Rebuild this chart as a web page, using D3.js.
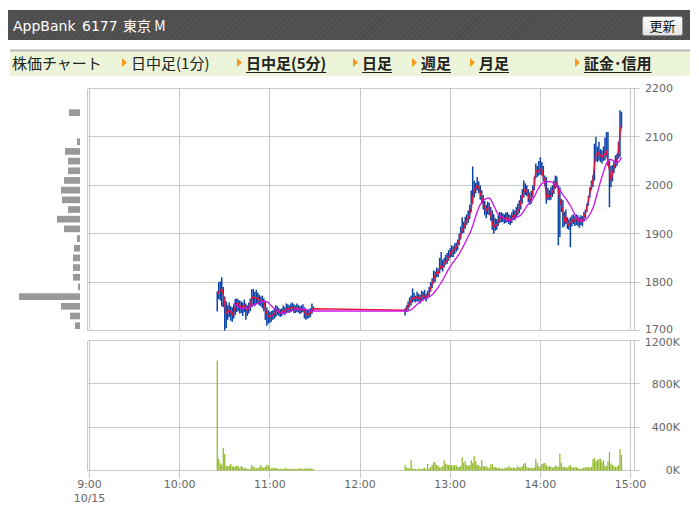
<!DOCTYPE html>
<html>
<head>
<meta charset="utf-8">
<script src="https://cdn.jsdelivr.net/npm/d3@7"></script>
<style>
  body { margin: 0; background: #fff; }
  svg text { font-family: "DejaVu Sans", "Noto Sans CJK JP", sans-serif; }
  .cjk { font-family: "Noto Sans CJK JP", "DejaVu Sans", sans-serif; }
</style>
</head>
<body>
<div id="chart"></div>
<script>
// ---- data ----
const tickLabels = ["9:00", "10:00", "11:00", "12:00", "13:00", "14:00", "15:00"];
const dateLabel = "10/15";
const priceTicks = [1700, 1800, 1900, 2000, 2100, 2200];
const volumeTicks = [0, 400, 800, 1200]; // thousands of shares

const navLabels = ["株価チャート", "日中足(1分)", "日中足(5分)", "日足", "週足", "月足", "証金･信用"];

// morning session, 1-minute bars from 10:25
const morningStart = "10:25";
const morningHigh = [
  1781,1800,1801,1810,1790,1770,1760,1752,1758,1750,
  1748,1754,1765,1766,1764,1762,1760,1758,1764,1756,
  1752,1758,1766,1785,1786,1780,1784,1778,1774,1770,
  1772,1766,1760,1748,1742,1738,1740,1742,1745,1752,
  1750,1746,1744,1746,1752,1748,1756,1754,1752,1756,
  1758,1754,1752,1756,1753,1750,1752,1754,1748,1744,
  1742,1744,1746,1756,1750];
const morningLow = [
  1739,1765,1762,1750,1748,1700,1705,1722,1728,1720,
  1718,1725,1732,1738,1740,1735,1736,1730,1738,1722,
  1730,1735,1740,1748,1752,1750,1755,1756,1752,1750,
  1746,1740,1722,1710,1714,1716,1718,1722,1724,1728,
  1732,1730,1728,1730,1734,1732,1736,1738,1736,1738,
  1740,1736,1736,1738,1737,1734,1736,1738,1725,1722,
  1724,1726,1728,1734,1740];
const morningClose = [
  1775,1780,1783,1785,1775,1755,1735,1738,1742,1738,
  1733,1740,1748,1755,1756,1752,1750,1748,1752,1745,
  1742,1748,1752,1765,1770,1768,1766,1768,1764,1762,
  1760,1758,1745,1735,1730,1728,1730,1732,1735,1740,
  1742,1738,1736,1738,1742,1740,1744,1746,1744,1746,
  1748,1745,1744,1746,1745,1742,1744,1745,1738,1735,
  1732,1734,1736,1742,1745];
const morningVolume = [
  1015,108,68,52,210,154,43,40,43,62,
  38,35,37,45,40,22,43,30,20,25,
  14,12,18,52,35,28,22,20,30,52,
  30,25,35,52,48,22,20,25,24,22,
  20,15,15,16,14,22,18,15,15,14,
  15,16,14,15,18,22,15,16,14,22,
  18,16,20,18,12];

// afternoon session, 1-minute bars from 12:30
const afternoonStart = "12:30";
const afternoonHigh = [
  1746,1752,1760,1768,1772,1787,1778,1772,1780,1776,
  1774,1782,1780,1784,1776,1782,1790,1800,1808,1824,
  1822,1830,1828,1850,1862,1846,1850,1856,1860,1866,
  1870,1876,1874,1880,1882,1888,1900,1915,1934,1925,
  1935,1940,1948,1960,1989,2039,2010,2005,2017,2008,
  2000,1990,1980,1968,1960,1966,1964,1955,1948,1940,
  1932,1930,1938,1945,1944,1942,1940,1944,1945,1940,
  1938,1944,1950,1948,1955,1962,1969,1980,1992,2010,
  2004,2000,1992,1985,1989,2000,2018,2045,2040,2050,
  2058,2048,2040,2020,2017,1995,1990,1996,2000,2010,
  2020,2018,2000,1996,1972,1969,1945,1950,1934,1930,
  1934,1938,1940,1936,1940,1938,1934,1938,1936,1945,
  1950,1962,1978,1996,2010,2020,2086,2100,2080,2090,
  2075,2072,2080,2098,2110,2110,2051,2040,2042,2050,
  2062,2065,2090,2155,2152];
const afternoonLow = [
  1731,1738,1742,1748,1752,1758,1760,1758,1760,1760,
  1756,1762,1764,1765,1760,1766,1770,1780,1788,1797,
  1800,1810,1810,1818,1826,1822,1830,1836,1838,1844,
  1850,1852,1852,1858,1862,1866,1876,1888,1900,1902,
  1910,1918,1922,1930,1945,1962,1975,1983,1990,1984,
  1970,1962,1950,1938,1932,1940,1938,1927,1908,1900,
  1906,1908,1916,1922,1924,1924,1921,1922,1924,1920,
  1918,1922,1928,1928,1932,1938,1942,1950,1962,1975,
  1980,1978,1965,1960,1962,1975,1990,2015,2017,2020,
  2022,2020,2008,1998,1962,1970,1969,1970,1976,1982,
  1993,1996,1876,1893,1945,1913,1915,1920,1910,1908,
  1872,1915,1920,1916,1918,1916,1912,1918,1915,1925,
  1932,1945,1958,1975,1990,1996,2010,2050,2048,2051,
  2048,2045,2050,2052,2058,2040,1955,1996,2008,2025,
  2035,2040,2055,2058,2118];
const afternoonClose = [
  1742,1745,1750,1756,1762,1766,1769,1766,1770,1768,
  1765,1770,1772,1771,1768,1773,1776,1788,1797,1805,
  1814,1820,1818,1826,1834,1831,1838,1842,1845,1851,
  1858,1865,1862,1870,1872,1878,1886,1897,1907,1912,
  1921,1927,1932,1940,1950,1975,1990,1994,2000,1996,
  1984,1975,1962,1955,1948,1954,1952,1938,1924,1913,
  1918,1917,1926,1931,1936,1934,1930,1931,1934,1929,
  1927,1933,1938,1936,1942,1948,1952,1965,1975,1986,
  1992,1990,1978,1969,1972,1988,2000,2031,2027,2030,
  2033,2031,2017,2010,1975,1979,1976,1979,1986,1993,
  2004,2006,1990,1969,1958,1948,1927,1934,1921,1918,
  1924,1927,1930,1926,1931,1928,1925,1929,1927,1935,
  1942,1955,1969,1985,1998,2010,2040,2065,2062,2068,
  2060,2058,2062,2065,2070,2048,2031,2010,2025,2038,
  2046,2051,2072,2105,2124];
const afternoonVolume = [
  49,25,22,20,95,18,12,15,10,18,
  12,15,22,25,12,62,18,30,52,77,
  75,50,42,28,28,40,95,65,55,52,
  50,48,45,50,48,35,32,40,123,70,
  86,50,45,48,95,70,132,86,52,48,
  33,95,40,38,40,28,25,55,62,30,
  33,25,28,22,18,20,18,28,25,40,
  28,25,28,25,22,40,28,28,40,62,
  71,35,25,25,22,25,28,105,70,40,
  33,58,65,70,50,33,40,38,25,33,
  45,40,33,154,70,33,35,30,25,40,
  50,30,25,33,28,25,15,15,20,28,
  25,33,30,28,33,105,114,86,95,108,
  108,77,95,45,40,86,170,65,52,40,
  33,35,48,197,145];

// volume by price (left side profile), bin centres every 20 yen
const profilePrice = [2150,2130,2110,2090,2070,2050,2030,2010,1990,1970,1950,1930,
                      1910,1890,1870,1850,1830,1810,1790,1770,1750,1730,1710];
const profileVolume = [11,0,0,3,15,12,12,16,19,18,12,23,16,3,6,7,7,7,2,61,19,10,5];

// ---- chart setup ----
const width = 699, height = 529;
const toMinutes = s => { const [h, m] = s.split(":").map(Number); return h * 60 + m; };

const makeSession = (start, high, low, close, volume) =>
    high.map((h, i) => ({ t: toMinutes(start) + i, high: h, low: low[i], close: close[i], volume: volume[i] }));

const bars = makeSession(morningStart, morningHigh, morningLow, morningClose, morningVolume)
    .concat(makeSession(afternoonStart, afternoonHigh, afternoonLow, afternoonClose, afternoonVolume));

// 12 bar moving average of the close (magenta line)
const maWindow = 12;
bars.forEach((d, i) => {
    if (i >= maWindow - 1) d.ma = d3.mean(bars.slice(i - maWindow + 1, i + 1), b => b.close);
});

const gridColor = "#c8c8c8";
const labelColor = "#666";

const svg = d3.select("#chart")
    .append("svg")
    .attr("width", width)
    .attr("height", height);

const defs = svg.append("defs");
const stripes = defs.append("pattern")
    .attr("id", "stripes")
    .attr("patternUnits", "userSpaceOnUse")
    .attr("width", 4).attr("height", 4)
    .attr("patternTransform", "rotate(-45)");
stripes.append("rect").attr("width", 4).attr("height", 4).attr("fill", "#4c4c4c");
stripes.append("rect").attr("width", 4).attr("height", 1.5).attr("fill", "#565656");

const btnGrad = defs.append("linearGradient")
    .attr("id", "btnGrad").attr("x1", 0).attr("x2", 0).attr("y1", 0).attr("y2", 1);
btnGrad.append("stop").attr("offset", "0%").attr("stop-color", "#ffffff");
btnGrad.append("stop").attr("offset", "100%").attr("stop-color", "#e2e2e2");

/*************/
/* Header bar */
/*************/
svg.append("rect")
    .attr("x", 8).attr("y", 10).attr("width", 682).attr("height", 30)
    .attr("fill", "url(#stripes)");

const title = svg.append("text")
    .attr("y", 31)
    .attr("fill", "#fff")
    .style("font-size", "14px");
title.append("tspan").attr("x", 13).text("AppBank");
title.append("tspan").attr("x", 82).text("6177");
title.append("tspan").attr("x", 123).attr("class", "cjk").text("東京 M");

svg.append("rect")
    .attr("x", 642.5).attr("y", 16.5).attr("width", 40).attr("height", 19).attr("rx", 2)
    .attr("fill", "url(#btnGrad)")
    .attr("stroke", "#8a8a8a");
svg.append("text")
    .attr("class", "cjk")
    .attr("x", 662.5).attr("y", 31)
    .attr("text-anchor", "middle")
    .attr("fill", "#111")
    .style("font-size", "13px")
    .text("更新");

/************/
/* Nav menu */
/************/
const navX = [12, 131, 246, 362, 421, 479, 584];
const navBold = [false, false, true, true, true, true, true];

svg.append("rect")
    .attr("x", 10).attr("y", 50).attr("width", 680).attr("height", 26)
    .attr("fill", "#ecf4da");
svg.append("line")
    .attr("x1", 10).attr("x2", 690).attr("y1", 50.5).attr("y2", 50.5)
    .attr("stroke", "#b9b9b9").attr("stroke-width", 2);

navLabels.forEach((label, i) => {
    if (i > 0) {
        const ax = navX[i] - 9;
        svg.append("path")
            .attr("d", `M${ax},${58} L${ax + 5},${62.5} L${ax},${67} Z`)
            .attr("fill", "#f29b1d");
    }
    const t = svg.append("text")
        .attr("class", "cjk")
        .attr("x", navX[i]).attr("y", 69)
        .attr("fill", "#222")
        .style("font-size", "15px")
        .style("font-weight", navBold[i] ? "bold" : "normal")
        .text(label);
    if (navBold[i]) {
        const w = t.node().getComputedTextLength();
        svg.append("line")
            .attr("x1", navX[i]).attr("x2", navX[i] + w)
            .attr("y1", 72.5).attr("y2", 72.5)
            .attr("stroke", "#222").attr("stroke-width", 1);
    }
});

/**********/
/* Scales */
/**********/
const xScale = d3.scaleLinear()
    .domain([toMinutes(tickLabels[0]), toMinutes(tickLabels[tickLabels.length - 1])])
    .range([89.5, 630.5]);

const yPrice = d3.scaleLinear()
    .domain([priceTicks[0], priceTicks[priceTicks.length - 1]])
    .range([330.5, 88.5]);

const yVolume = d3.scaleLinear()
    .domain([volumeTicks[0], volumeTicks[volumeTicks.length - 1]])
    .range([470.5, 340.5]);

const profileScale = d3.scaleLinear()
    .domain([0, d3.max(profileVolume)])
    .range([0, 61]);

/*************/
/* Gridlines */
/*************/
const grid = svg.append("g")
    .attr("stroke", gridColor)
    .attr("stroke-width", 1)
    .attr("shape-rendering", "crispEdges");

grid.selectAll(".hp")
    .data(priceTicks)
    .join("line")
        .attr("x1", 87.5).attr("x2", 640)
        .attr("y1", d => yPrice(d)).attr("y2", d => yPrice(d));

grid.selectAll(".hv")
    .data(volumeTicks)
    .join("line")
        .attr("class", "hv")
        .attr("x1", 87.5).attr("x2", 640)
        .attr("y1", d => yVolume(d)).attr("y2", d => yVolume(d));

grid.selectAll(".vp")
    .data(tickLabels)
    .join("line")
        .attr("class", "vp")
        .attr("x1", d => xScale(toMinutes(d))).attr("x2", d => xScale(toMinutes(d)))
        .attr("y1", yPrice.range()[1]).attr("y2", yPrice.range()[0]);

grid.selectAll(".vv")
    .data(tickLabels)
    .join("line")
        .attr("class", "vv")
        .attr("x1", d => xScale(toMinutes(d))).attr("x2", d => xScale(toMinutes(d)))
        .attr("y1", yVolume.range()[1]).attr("y2", yVolume.range()[0] + 7);

// panel frames
[[yPrice.range()[1], yPrice.range()[0]], [yVolume.range()[1], yVolume.range()[0]]].forEach(([y1, y2]) => {
    [87.5, 634.5].forEach(xx => {
        grid.append("line").attr("x1", xx).attr("x2", xx).attr("y1", y1).attr("y2", y2);
    });
});

/**************/
/* Axis texts */
/**************/
svg.selectAll(".price-label")
    .data(priceTicks)
    .join("text")
        .attr("class", "price-label")
        .attr("x", 645)
        .attr("y", d => yPrice(d) - (d === priceTicks[0] ? 1.5 : 0))
        .attr("dy", "0.36em")
        .attr("fill", labelColor)
        .style("font-size", "11px")
        .text(d => d);

svg.selectAll(".vol-label")
    .data(volumeTicks)
    .join("text")
        .attr("class", "vol-label")
        .attr("x", 680)
        .attr("y", d => yVolume(d) + (d === volumeTicks[volumeTicks.length - 1] ? 1.5 : 0))
        .attr("dy", "0.36em")
        .attr("text-anchor", "end")
        .attr("fill", labelColor)
        .style("font-size", "11px")
        .text(d => d + "K");

svg.selectAll(".time-label")
    .data(tickLabels)
    .join("text")
        .attr("class", "time-label")
        .attr("x", d => xScale(toMinutes(d)))
        .attr("y", 488)
        .attr("text-anchor", "middle")
        .attr("fill", labelColor)
        .style("font-size", "11px")
        .text(d => d);

svg.append("text")
    .attr("x", xScale(toMinutes(tickLabels[0])))
    .attr("y", 502)
    .attr("text-anchor", "middle")
    .attr("fill", labelColor)
    .style("font-size", "11px")
    .text(dateLabel);

/*********************/
/* Volume-by-price   */
/*********************/
const binHeight = Math.abs(yPrice(10) - yPrice(0)) * 2 * 0.69;
svg.selectAll(".profile")
    .data(profilePrice)
    .join("rect")
        .attr("class", "profile")
        .attr("x", (d, i) => 80 - profileScale(profileVolume[i]))
        .attr("y", d => yPrice(d) - binHeight / 2)
        .attr("width", (d, i) => profileScale(profileVolume[i]))
        .attr("height", binHeight)
        .attr("fill", "#999");

/*******************/
/* Price hi-lo bars */
/*******************/
svg.append("g")
    .selectAll("line")
    .data(bars)
    .join("line")
        .attr("x1", d => xScale(d.t)).attr("x2", d => xScale(d.t))
        .attr("y1", d => yPrice(d.high))
        .attr("y2", d => Math.max(yPrice(d.low), yPrice(d.high) + 1))
        .attr("stroke", "#0c44a6")
        .attr("stroke-width", 1.5);

const closeLine = d3.line()
    .x(d => xScale(d.t))
    .y(d => yPrice(d.close));

svg.append("path")
    .datum(bars)
    .attr("d", closeLine)
    .attr("fill", "none")
    .attr("stroke", "#e4163c")
    .attr("stroke-width", 1.4);

const maLine = d3.line()
    .defined(d => d.ma != null)
    .x(d => xScale(d.t))
    .y(d => yPrice(d.ma));

svg.append("path")
    .datum(bars)
    .attr("d", maLine)
    .attr("fill", "none")
    .attr("stroke", "#cc11ee")
    .attr("stroke-width", 1.3);

/***************/
/* Volume bars */
/***************/
svg.append("g")
    .selectAll("rect")
    .data(bars)
    .join("rect")
        .attr("x", d => xScale(d.t) - 0.6)
        .attr("y", d => yVolume(d.volume))
        .attr("width", 1.2)
        .attr("height", d => yVolume(0) - yVolume(d.volume))
        .attr("fill", "#8cb523");
</script>
</body>
</html>
